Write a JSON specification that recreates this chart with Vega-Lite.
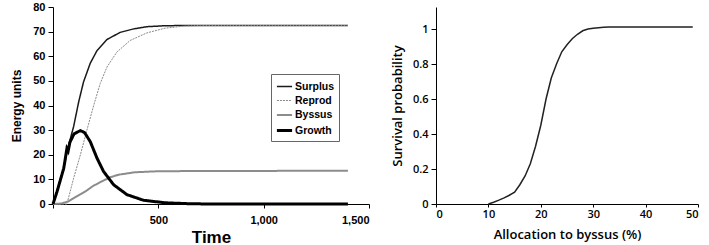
{
  "$schema": "https://vega.github.io/schema/vega-lite/v6.json",
  "padding": {"left": 10, "top": 1, "right": 0, "bottom": 0},
  "bounds": "flush",
  "spacing": 67,
  "config": {
    "view": {"stroke": null},
    "axis": {"grid": false, "domainColor": "#000", "tickColor": "#000", "labelColor": "#000", "titleColor": "#000"}
  },
  "datasets": {
    "energy": [
      {"t": 0, "s": "Surplus", "v": 0}, {"t": 19, "s": "Surplus", "v": 5.1}, {"t": 35, "s": "Surplus", "v": 10}, {"t": 51, "s": "Surplus", "v": 14.5}, {"t": 70, "s": "Surplus", "v": 22.6}, {"t": 98, "s": "Surplus", "v": 31.5}, {"t": 122, "s": "Surplus", "v": 41.5}, {"t": 145, "s": "Surplus", "v": 49.6}, {"t": 177, "s": "Surplus", "v": 57.2}, {"t": 209, "s": "Surplus", "v": 62.3}, {"t": 256, "s": "Surplus", "v": 66.8}, {"t": 319, "s": "Surplus", "v": 69.7}, {"t": 382, "s": "Surplus", "v": 71.1}, {"t": 446, "s": "Surplus", "v": 72}, {"t": 532, "s": "Surplus", "v": 72.4}, {"t": 650, "s": "Surplus", "v": 72.5}, {"t": 1400, "s": "Surplus", "v": 72.5},
      {"t": 0, "s": "Reprod", "v": 0}, {"t": 66, "s": "Reprod", "v": 0}, {"t": 98, "s": "Reprod", "v": 10.5}, {"t": 130, "s": "Reprod", "v": 20}, {"t": 161, "s": "Reprod", "v": 30}, {"t": 193, "s": "Reprod", "v": 40}, {"t": 224, "s": "Reprod", "v": 48.9}, {"t": 256, "s": "Reprod", "v": 55.6}, {"t": 303, "s": "Reprod", "v": 61.7}, {"t": 366, "s": "Reprod", "v": 66.4}, {"t": 446, "s": "Reprod", "v": 69.5}, {"t": 532, "s": "Reprod", "v": 71.4}, {"t": 627, "s": "Reprod", "v": 72.3}, {"t": 700, "s": "Reprod", "v": 72.5}, {"t": 1400, "s": "Reprod", "v": 72.5},
      {"t": 0, "s": "Byssus", "v": 0}, {"t": 40, "s": "Byssus", "v": 0.2}, {"t": 74, "s": "Byssus", "v": 1.1}, {"t": 110, "s": "Byssus", "v": 3}, {"t": 154, "s": "Byssus", "v": 5.1}, {"t": 190, "s": "Byssus", "v": 7.3}, {"t": 232, "s": "Byssus", "v": 9.2}, {"t": 270, "s": "Byssus", "v": 10.8}, {"t": 311, "s": "Byssus", "v": 11.9}, {"t": 390, "s": "Byssus", "v": 12.9}, {"t": 500, "s": "Byssus", "v": 13.3}, {"t": 700, "s": "Byssus", "v": 13.4}, {"t": 1400, "s": "Byssus", "v": 13.5},
      {"t": 0, "s": "Growth", "v": 0}, {"t": 19, "s": "Growth", "v": 5}, {"t": 51, "s": "Growth", "v": 14.5}, {"t": 66, "s": "Growth", "v": 22.5}, {"t": 72, "s": "Growth", "v": 21.5}, {"t": 80, "s": "Growth", "v": 25}, {"t": 100, "s": "Growth", "v": 28.5}, {"t": 130, "s": "Growth", "v": 29.8}, {"t": 150, "s": "Growth", "v": 29}, {"t": 177, "s": "Growth", "v": 25.3}, {"t": 209, "s": "Growth", "v": 18.6}, {"t": 240, "s": "Growth", "v": 13.2}, {"t": 288, "s": "Growth", "v": 7.8}, {"t": 351, "s": "Growth", "v": 3.8}, {"t": 430, "s": "Growth", "v": 1.5}, {"t": 532, "s": "Growth", "v": 0.5}, {"t": 650, "s": "Growth", "v": 0.1}, {"t": 750, "s": "Growth", "v": 0}, {"t": 1400, "s": "Growth", "v": 0}
    ],
    "survival": [
      {"a": 10, "p": 0}, {"a": 11, "p": 0.01}, {"a": 12, "p": 0.022}, {"a": 13, "p": 0.035}, {"a": 14, "p": 0.05}, {"a": 15, "p": 0.068}, {"a": 16, "p": 0.11}, {"a": 17, "p": 0.16}, {"a": 18, "p": 0.23}, {"a": 19, "p": 0.33}, {"a": 20, "p": 0.45}, {"a": 21, "p": 0.6}, {"a": 22, "p": 0.72}, {"a": 23, "p": 0.8}, {"a": 24, "p": 0.87}, {"a": 25, "p": 0.91}, {"a": 26, "p": 0.945}, {"a": 27, "p": 0.97}, {"a": 28, "p": 0.99}, {"a": 29, "p": 1.0}, {"a": 30, "p": 1.005}, {"a": 31, "p": 1.008}, {"a": 32, "p": 1.01}, {"a": 33, "p": 1.012}, {"a": 49, "p": 1.012}
    ]
  },
  "hconcat": [
    {
      "width": 316,
      "height": 197,
      "data": {"name": "energy"},
      "mark": {"type": "line", "strokeCap": "butt"},
      "encoding": {
        "x": {"field": "t", "type": "quantitative", "scale": {"domain": [0, 1500], "nice": false},
          "axis": {"title": "Time", "values": [0, 500, 1000, 1500], "format": ",d", "labelExpr": "datum.value == 0 ? '' : datum.label",
            "labelFont": "Liberation Sans", "labelFontWeight": "bold", "labelFontSize": 11, "labelPadding": 6, "tickSize": 4,
            "titleFont": "Liberation Sans", "titleFontWeight": "bold", "titleFontSize": 17, "titlePadding": 4}},
        "y": {"field": "v", "type": "quantitative", "scale": {"domain": [0, 80], "nice": false},
          "axis": {"title": "Energy units", "values": [0, 10, 20, 30, 40, 50, 60, 70, 80], "tickSize": 5,
            "labelFont": "Liberation Sans", "labelFontWeight": "bold", "labelFontSize": 11, "labelPadding": 3,
            "titleFont": "Liberation Sans", "titleFontWeight": "bold", "titleFontSize": 12, "titlePadding": 9}},
        "color": {"field": "s", "type": "nominal", "scale": {"type": "ordinal", "domain": ["Surplus", "Reprod", "Byssus", "Growth"], "range": ["#1a1a1a", "#8a8a8a", "#8c8c8c", "#000000"]},
          "legend": {"title": null, "orient": "none", "legendX": 218, "legendY": 67, "strokeColor": "#666", "padding": 4,
            "symbolType": "stroke", "symbolSize": 230, "labelFont": "Liberation Sans", "labelFontWeight": "bold", "labelFontSize": 10.5, "labelColor": "#000",
            "rowPadding": 0, "labelOffset": 1, "fillColor": "white"}},
        "strokeDash": {"field": "s", "type": "nominal", "scale": {"type": "ordinal", "domain": ["Surplus", "Reprod", "Byssus", "Growth"], "range": [[1, 0], [2, 1], [1, 0], [1, 0]]}},
        "strokeWidth": {"field": "s", "type": "nominal", "scale": {"type": "ordinal", "domain": ["Surplus", "Reprod", "Byssus", "Growth"], "range": [1.5, 1, 2, 3]}},
        "order": {"field": "t", "type": "quantitative"}
      }
    },
    {
      "width": 262,
      "height": 197,
      "data": {"name": "survival"},
      "mark": {"type": "line", "color": "#222", "strokeWidth": 1.5},
      "encoding": {
        "x": {"field": "a", "type": "quantitative", "scale": {"domain": [0, 50], "nice": false},
          "axis": {"title": "Allocation to byssus (%)", "values": [0, 10, 20, 30, 40, 50], "tickSize": 3,
            "labelFont": "Open Sans", "labelFontWeight": 600, "labelFontSize": 11, "labelPadding": 1,
            "titleFont": "Open Sans", "titleFontWeight": 600, "titleFontSize": 13, "titlePadding": 9}},
        "y": {"field": "p", "type": "quantitative", "scale": {"domain": [0, 1.126], "nice": false},
          "axis": {"title": "Survival probability", "values": [0, 0.2, 0.4, 0.6, 0.8, 1], "format": ".1~f", "tickSize": 5,
            "labelFont": "Open Sans", "labelFontWeight": 600, "labelFontSize": 11, "labelPadding": 3,
            "titleFont": "Open Sans", "titleFontWeight": 600, "titleFontSize": 13, "titlePadding": 8}}
      }
    }
  ]
}
